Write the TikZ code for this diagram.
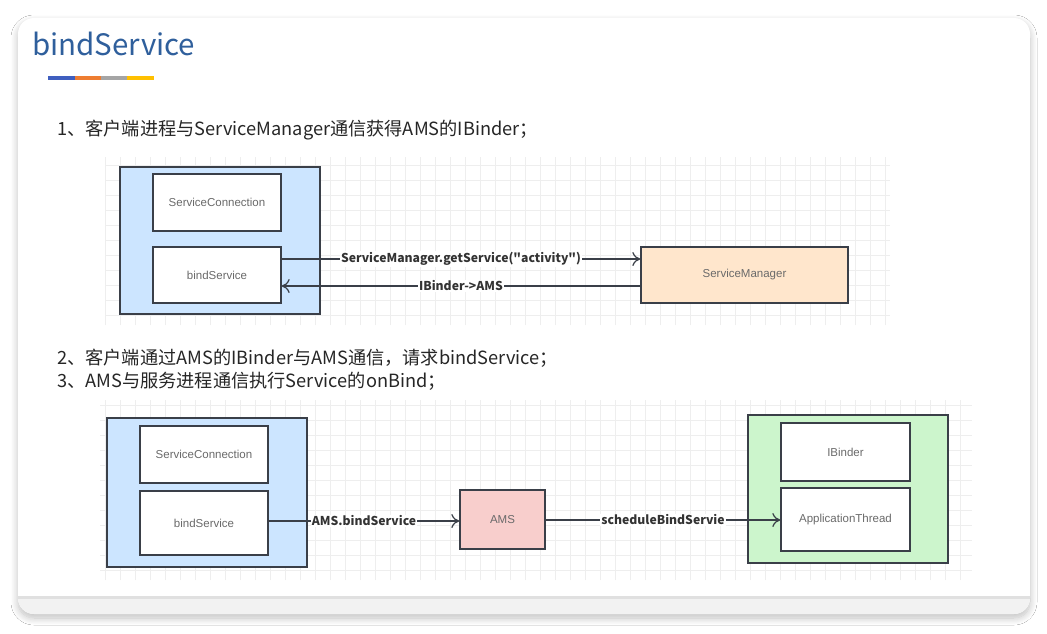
\documentclass[tikz,border=0pt]{standalone}
\usepackage{fontspec}
\setmainfont{Liberation Sans}
\newfontfamily\cjk{Noto Sans CJK SC}
\usetikzlibrary{arrows.meta,shadows.blur}
\definecolor{titleblue}{HTML}{2F5F9C}
\definecolor{boxblue}{HTML}{CCE5FF}
\definecolor{boxorange}{HTML}{FFE6CC}
\definecolor{boxred}{HTML}{F8CECC}
\definecolor{boxgreen}{HTML}{CCF5CC}
\definecolor{edge}{HTML}{3A3F48}
\definecolor{gridc}{HTML}{EEEEEE}
\definecolor{innertxt}{HTML}{6A6A6A}
\definecolor{b1}{HTML}{3F5FBF}
\definecolor{b2}{HTML}{EE7D31}
\definecolor{b3}{HTML}{A5A5A5}
\definecolor{b4}{HTML}{FFC000}
\tikzset{
  outerbox/.style={draw=edge, line width=1.3pt, minimum width=#1},
  innerbox/.style={draw=edge, line width=1.3pt, fill=white, minimum width=128pt, font=\fontsize{11.5}{13}\selectfont, text=innertxt},
  colorbox/.style={draw=edge, line width=1.3pt, font=\fontsize{11.5}{13}\selectfont, text=innertxt},
  conn/.style={draw=edge, line width=1.1pt, -{To[length=8pt,width=14pt,line width=1.2pt]}},
  lbl/.style={fill=white, inner sep=1pt, font=\cjk\bfseries\fontsize{12.2}{14}\selectfont, text=black!80},
  stepline/.style={font=\cjk\fontsize{18.2}{21}\selectfont, text=black!85, anchor=west, inner sep=0pt}
}
\begin{document}
\begin{tikzpicture}[x=1pt,y=-1pt]
\useasboundingbox (0,0) rectangle (1047,633);
\fill[white] (0,0) rectangle (1047,633);
% card
\fill[white, rounded corners=16pt, blur shadow={shadow xshift=0pt, shadow yshift=-4pt, shadow blur steps=12, shadow blur radius=7pt, shadow opacity=25}] (18,18) rectangle (1030,614);
\begin{scope}
\clip[rounded corners=16pt] (18,18) rectangle (1030,614);
\fill[black!5] (18,598) rectangle (1030,614);
\fill[black!12] (18,596) rectangle (1030,599);
\end{scope}
% title
\node[anchor=west, inner sep=0, font=\cjk\fontsize{29.5}{32}\selectfont, text=titleblue] (title) at (32,44) {bindService};
\fill[b1] (48,76) rectangle (75,80);
\fill[b2] (75,76) rectangle (101,80);
\fill[b3] (101,76) rectangle (127,80);
\fill[b4] (127,76) rectangle (154,80);
% step texts
\node[stepline] (s1) at (57,130) {1、客户端进程与ServiceManager通信获得AMS的IBinder；};
\node[stepline] (s2) at (57,358) {2、客户端通过AMS的IBinder与AMS通信，请求bindService；};
\node[stepline] (s3) at (57,381) {3、AMS与服务进程通信执行Service的onBind；};
% grids
\draw[gridc, line width=0.5pt, step=15pt] (105,157) grid (890,325);
\draw[gridc, line width=0.5pt, step=15pt] (100,400) grid (972,580);
% diagram 1
\node[outerbox=200pt, fill=boxblue, minimum height=147pt] (client1) at (220,240.5) {};
\node[innerbox, minimum height=57pt] (sc1) at (217,202.5) {ServiceConnection};
\node[innerbox, minimum height=56pt] (bs1) at (217,275) {bindService};
\node[colorbox, fill=boxorange, minimum width=207pt, minimum height=56pt] (sm) at (744.5,275) {ServiceManager};
\draw[conn] (bs1.east |- 0,259) -- node[lbl] {ServiceManager.getService("activity")} (sm.west |- 0,259);
\draw[conn] (sm.west |- 0,286) -- node[lbl] {IBinder->AMS} (bs1.east |- 0,286);
% diagram 2
\node[outerbox=200pt, fill=boxblue, minimum height=149pt] (client2) at (207,492.5) {};
\node[innerbox, minimum height=57pt] (sc2) at (204,454.5) {ServiceConnection};
\node[innerbox, minimum height=64pt] (bs2) at (204,523) {bindService};
\node[colorbox, fill=boxred, minimum width=85pt, minimum height=59pt] (ams) at (502.5,519.5) {AMS};
\node[outerbox=200pt, fill=boxgreen, minimum height=148pt] (server) at (848,489) {};
\node[innerbox, minimum width=129pt, minimum height=58pt] (ib) at (845.5,452) {IBinder};
\node[innerbox, minimum width=129pt, minimum height=63pt] (at) at (845.5,519.5) {ApplicationThread};
\draw[conn] (bs2.east |- 0,521) -- node[lbl] {AMS.bindService} (ams.west |- 0,521);
\draw[conn] (ams.east |- 0,520) -- node[lbl] {scheduleBindServie} (at.west |- 0,520);
\end{tikzpicture}
\end{document}
